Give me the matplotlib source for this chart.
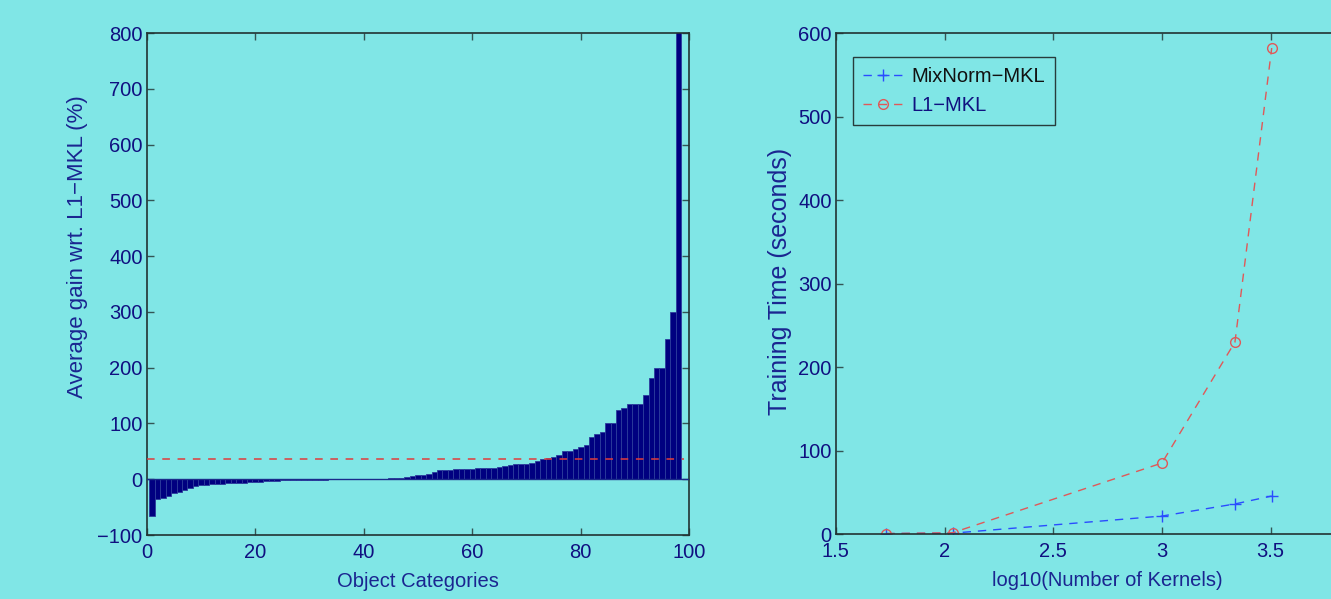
import matplotlib.pyplot as plt
import numpy as np

# sorted per-category gain of MixNorm-MKL over L1-MKL (%)
gain = [-66, -36, -33, -30, -24, -22, -19, -15, -12, -11,
        -10, -9, -9, -8, -7, -7, -6, -6, -5, -5,
        -5, -4, -4, -3, -2, -2, -1, -1, -1, -1,
        -1, -1, -1, 0, 0, 0, 0, 0, 0, 0,
        1, 1, 1, 1, 2, 2, 3, 4, 5, 7,
        8, 9, 13, 16, 17, 17, 18, 19, 19, 19,
        20, 20, 21, 21, 22, 23, 25, 27, 27, 27,
        29, 33, 36, 38, 40, 43, 51, 51, 55, 58,
        61, 76, 81, 85, 101, 101, 124, 127, 135, 135,
        135, 151, 181, 200, 200, 251, 300, 880]
mean_gain = 37

log_kernels = [1.732, 2.037, 3.0, 3.336, 3.505]
time_mixnorm = [0.5, 1, 21.5, 36, 45.5]
time_l1 = [0.5, 1.5, 85, 230, 582]

bg = '#80e6e6'
navy = '#101080'
label_col = '#1a2590'

plt.rcParams['font.family'] = ['Liberation Sans', 'DejaVu Sans']

fig = plt.figure(figsize=(13.31, 5.99), dpi=100)
fig.patch.set_facecolor(bg)

ax1 = fig.add_axes([0.1102, 0.1068, 0.4077, 0.838])
ax2 = fig.add_axes([0.628, 0.1085, 0.4083, 0.8364])

# left panel: bars
cats = np.arange(1, len(gain) + 1)
ax1.bar(cats, gain, width=1.0, color='#000080', edgecolor='#2c3c9c',
        linewidth=0.6, zorder=2)
ax1.axhline(0, color='#1a2a8a', linewidth=1.0, zorder=3)
ax1.plot([0, 99], [mean_gain, mean_gain], color='#e03c3c', linestyle='--',
         dashes=(5, 5), linewidth=1.1, zorder=4)
ax1.set_xlim(0, 100)
ax1.set_ylim(-100, 800)
ax1.set_xticks(np.arange(0, 101, 20))
ax1.set_yticks(np.arange(-100, 801, 100))
ax1.set_yticklabels(['\u2212100'] + [str(v) for v in range(0, 801, 100)])
ax1.set_xlabel('Object Categories', fontsize=14.5, color=label_col)
ax1.set_ylabel('Average gain wrt. L1\u2212MKL (%)', fontsize=16,
               color=label_col)
ax1.xaxis.set_label_coords(0.5, -0.073)
ax1.yaxis.set_label_coords(-0.108, 0.574)

# right panel: training time
ax2.plot(log_kernels, time_mixnorm, color='#2a4cff', linestyle='--',
         dashes=(6, 5), linewidth=1.0, marker='+', markersize=9,
         markeredgewidth=1.0, label='MixNorm\u2212MKL')
ax2.plot(log_kernels, time_l1, color='#e05858', linestyle='--',
         dashes=(6, 5), linewidth=1.0, marker='o', markersize=7,
         markerfacecolor='none', markeredgewidth=1.0, label='L1\u2212MKL')
ax2.set_xlim(1.5, 4)
ax2.set_ylim(0, 600)
ax2.set_xticks([1.5, 2, 2.5, 3, 3.5])
ax2.set_xticklabels(['1.5', '2', '2.5', '3', '3.5'])
ax2.set_yticks(np.arange(0, 601, 100))
ax2.set_xlabel('log10(Number of Kernels)', fontsize=14.5, color=label_col)
ax2.set_ylabel('Training Time (seconds)', fontsize=18, color=label_col)
ax2.xaxis.set_label_coords(0.5, -0.073)
ax2.yaxis.set_label_coords(-0.081, 0.504)
leg = ax2.legend(loc='upper left', bbox_to_anchor=(0.031, 0.952),
                 fontsize=14.5, frameon=True, fancybox=False,
                 handlelength=2.0, handletextpad=0.4, borderpad=0.5,
                 labelspacing=0.5, borderaxespad=0)
leg.get_frame().set_facecolor(bg)
leg.get_frame().set_edgecolor('#111111')
leg.get_frame().set_linewidth(1.0)
leg.get_texts()[0].set_color('#111111')
leg.get_texts()[1].set_color(navy)

for ax in (ax1, ax2):
    ax.set_facecolor(bg)
    for sp in ax.spines.values():
        sp.set_color('#223333')
        sp.set_linewidth(1.2)
    ax.tick_params(direction='in', top=True, right=True, length=5,
                   width=1.0, color='#335555', labelsize=14.5,
                   labelcolor=navy)
    ax.tick_params(axis='x', pad=6)
    ax.tick_params(axis='y', pad=3)

fig.savefig('out.png', dpi=100, facecolor=bg)
